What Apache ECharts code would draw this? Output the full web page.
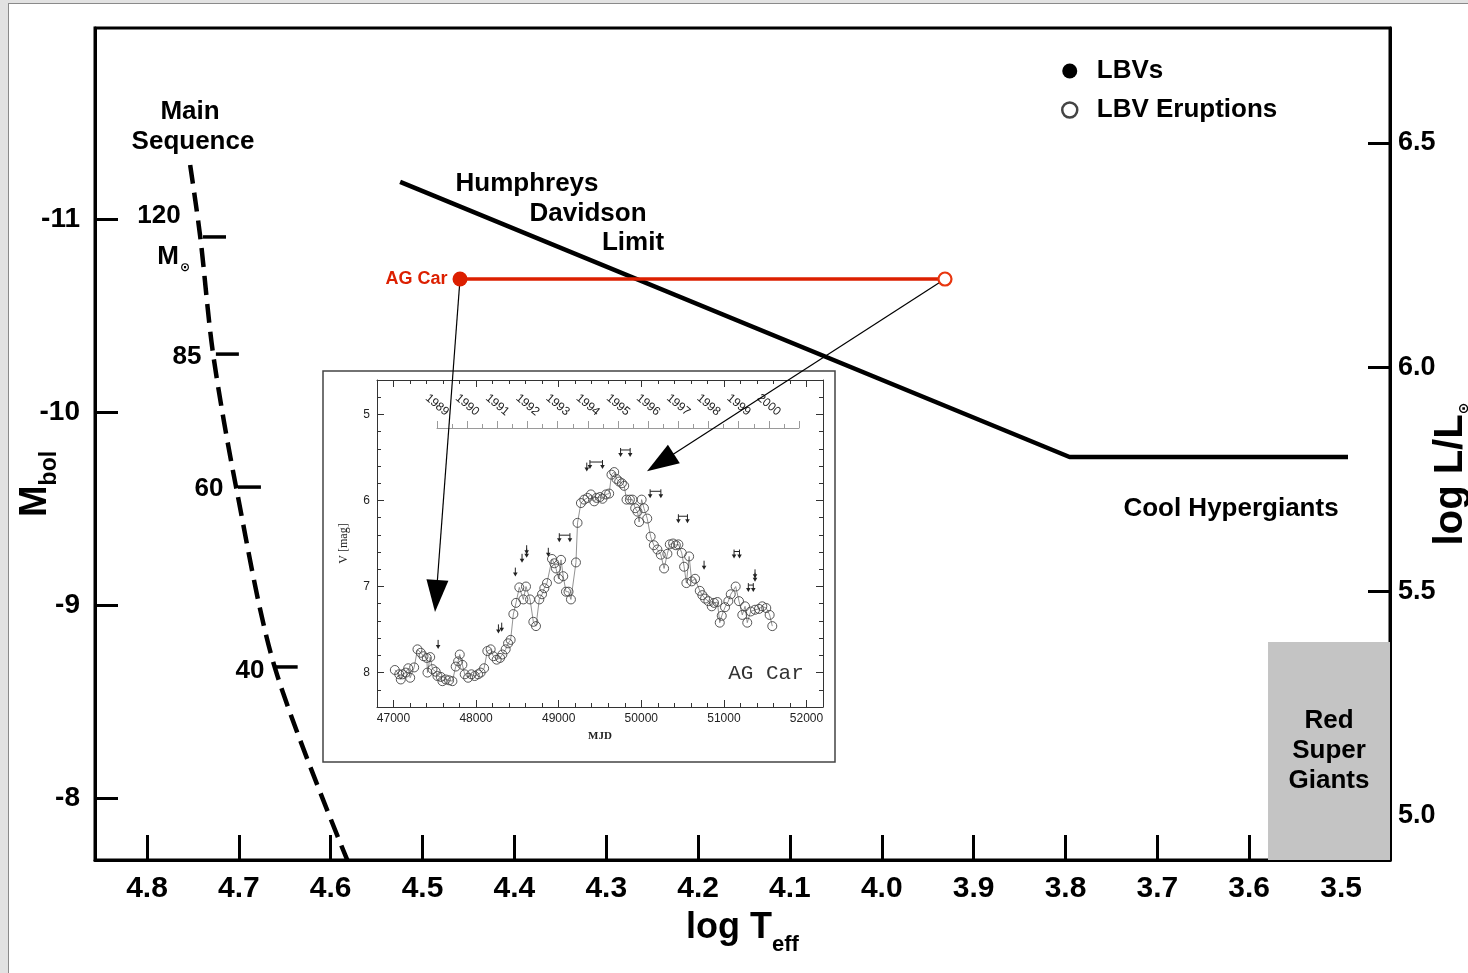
<!DOCTYPE html>
<html>
<head>
<meta charset="utf-8">
<title>AG Car in the HR diagram</title>
<script src="https://cdn.jsdelivr.net/npm/echarts@6/dist/echarts.min.js"></script>
<style>
  html, body { margin: 0; padding: 0; background: #e2e2e2; overflow: hidden; }
  .sheet { position: absolute; left: 8px; top: 3px; right: 0; bottom: 0; background: #fff;
           border-left: 1px solid #8a8a8a; border-top: 1px solid #8a8a8a; }
  #chart { position: absolute; left: 0; top: 0; width: 1468px; height: 973px; }
</style>
</head>
<body>
<div class="sheet"></div>
<div id="chart"></div>
<script>
const SANS = '"Liberation Sans", Arial, Helvetica, sans-serif'
const SERIF = '"Liberation Serif", "DejaVu Serif", serif'
const MONO = '"Liberation Mono", "DejaVu Sans Mono", monospace'
const RED = '#dc1f00'

// main HR diagram
const teffTicks = [4.8, 4.7, 4.6, 4.5, 4.4, 4.3, 4.2, 4.1, 4.0, 3.9, 3.8, 3.7, 3.6, 3.5]
const mbolTicks = [-11, -10, -9, -8]
const lumTicks = [5.0, 5.5, 6.0, 6.5]

const msTeff = [4.753, 4.742, 4.728, 4.703, 4.661, 4.582]
const msMbol = [-11.28, -10.907, -10.30, -9.611, -8.679, -7.679]
const massTeff = [4.739, 4.725, 4.701, 4.661]
const massMbol = [-10.907, -10.30, -9.611, -8.679]

const hdTeff = [4.5244, 3.7956, 3.4924]
const hdMbol = [-11.192, -9.767, -9.767]

const agCarTeff = [4.4592, 3.9312]   // quiescent, eruption
const agCarMbol = -10.689
const arrowTips = [[4.4851, -9.047], [4.2410, -9.738]]

const rsgTeff = 3.5795
const rsgMbol = -8.808

// inset: AG Car light curve
const mjdTicks = [47000, 48000, 49000, 50000, 51000, 52000]
const magTicks = [5, 6, 7, 8]
const lcMjd = [47016, 47069, 47088, 47109, 47149, 47178, 47202, 47250, 47290, 47330,
  47363, 47403, 47411, 47444, 47472, 47511, 47532, 47572, 47592, 47632,
  47673, 47713, 47753, 47782, 47802, 47834, 47862, 47903, 47943, 47983,
  48024, 48055, 48097, 48136, 48176, 48209, 48249, 48290, 48318, 48358,
  48387, 48418, 48451, 48483, 48523, 48572, 48604, 48653, 48693, 48725,
  48765, 48798, 48826, 48858, 48919, 48947, 48967, 48999, 49028, 49055,
  49088, 49119, 49148, 49209, 49228, 49269, 49309, 49349, 49390, 49430,
  49458, 49499, 49530, 49572, 49611, 49639, 49672, 49700, 49732, 49765,
  49793, 49821, 49862, 49893, 49926, 49954, 49974, 50004, 50032, 50072,
  50113, 50152, 50195, 50236, 50276, 50316, 50345, 50385, 50418, 50449,
  50490, 50518, 50546, 50579, 50611, 50651, 50708, 50739, 50772, 50812,
  50853, 50881, 50921, 50950, 50974, 51014, 51054, 51083, 51143, 51183,
  51223, 51256, 51283, 51324, 51377, 51425, 51465, 51513, 51554, 51586]
const lcMag = [7.97, 8.02, 8.08, 8.02, 8.00, 7.95, 8.06, 7.94, 7.73, 7.77,
  7.81, 7.83, 8.00, 7.82, 7.96, 7.99, 8.04, 8.05, 8.10, 8.08,
  8.09, 8.10, 7.93, 7.87, 7.79, 7.91, 8.02, 8.06, 8.02, 8.04,
  8.02, 8.00, 7.95, 7.75, 7.73, 7.81, 7.85, 7.83, 7.79, 7.73,
  7.66, 7.62, 7.32, 7.19, 7.01, 7.15, 7.00, 7.15, 7.41, 7.46,
  7.15, 7.09, 7.02, 6.96, 6.68, 6.73, 6.79, 6.91, 6.69, 6.88,
  7.06, 7.06, 7.15, 6.72, 6.26, 6.03, 5.99, 5.97, 5.93, 6.01,
  5.97, 5.96, 5.98, 5.93, 5.92, 5.70, 5.67, 5.75, 5.78, 5.80,
  5.83, 5.99, 5.99, 5.99, 6.09, 6.13, 6.25, 5.99, 6.09, 6.21,
  6.42, 6.52, 6.57, 6.63, 6.79, 6.62, 6.51, 6.50, 6.52, 6.51,
  6.61, 6.77, 6.96, 6.65, 6.94, 6.91, 7.05, 7.10, 7.14, 7.17,
  7.23, 7.19, 7.18, 7.42, 7.34, 7.24, 7.17, 7.09, 7.00, 7.17,
  7.33, 7.23, 7.42, 7.29, 7.27, 7.26, 7.23, 7.25, 7.33, 7.46]

// upper limits (single arrow when start == end, otherwise a barred pair)
const ulStart = [47540, 48270, 48310, 48475, 48556, 48612, 48612, 48874, 49007, 49340,
  49378, 49749, 50107, 50449, 50760, 51123, 51296, 51377, 51377]
const ulEnd = [47540, 48270, 48310, 48475, 48556, 48612, 48612, 48874, 49136, 49340,
  49530, 49865, 50237, 50559, 50760, 51189, 51356, 51377, 51377]
const ulMag = [7.62, 7.44, 7.42, 6.78, 6.62, 6.52, 6.56, 6.55, 6.38, 5.56,
  5.53, 5.39, 5.87, 6.16, 6.70, 6.57, 6.96, 6.80, 6.84]

const chart = echarts.init(document.getElementById('chart'), null, { renderer: 'canvas' })

const ink = '#333'
function insetX(position, major) {
  return {
    type: 'value', gridIndex: 1, position, min: 46800, max: 52200,
    interval: major ? undefined : 200,
    name: major && position === 'bottom' ? 'MJD' : '',
    nameLocation: 'middle', nameGap: 24, nameMoveOverlap: false,
    nameTextStyle: { fontFamily: SERIF, fontWeight: 'bold', fontSize: 11, color: '#222' },
    axisLine: { show: !major, lineStyle: { color: ink, width: 1 } },
    axisTick: major
      ? { inside: true, length: 7, customValues: mjdTicks, lineStyle: { color: ink } }
      : { inside: true, length: 4, lineStyle: { color: ink } },
    axisLabel: major && position === 'bottom'
      ? { customValues: mjdTicks, formatter: v => String(v), margin: 6,
          fontFamily: SANS, fontSize: 12, color: '#222' }
      : { show: false },
    splitLine: { show: false },
  }
}
function insetY(position, major) {
  return {
    type: 'value', gridIndex: 1, position, min: 4.6, max: 8.4, inverse: true,
    interval: major ? undefined : 0.2,
    name: major && position === 'left' ? 'V [mag]' : '',
    nameLocation: 'middle', nameGap: 27, nameRotate: 90, nameMoveOverlap: false,
    nameTextStyle: { fontFamily: SERIF, fontSize: 12, color: '#222' },
    axisLine: { show: !major, lineStyle: { color: ink, width: 1 } },
    axisTick: major
      ? { inside: true, length: 7, customValues: magTicks, lineStyle: { color: ink } }
      : { inside: true, length: 4, lineStyle: { color: ink } },
    axisLabel: major && position === 'left'
      ? { customValues: magTicks, formatter: v => String(v), margin: 7,
          fontFamily: SANS, fontSize: 12, color: '#222' }
      : { show: false },
    splitLine: { show: false },
  }
}

const bold = (size) => ({ fontFamily: SANS, fontWeight: 'bold', fontSize: size, color: '#000' })
function note(text, x, y, font, fill) {
  return {
    type: 'text', x, y, z: 20,
    style: { text, fill: fill || '#000', font: font || `bold 26px ${SANS}`,
      textAlign: 'center', textVerticalAlign: 'middle', align: 'center', verticalAlign: 'middle' }
  }
}
const massLabels = ['120', '85', '60', '40']

chart.setOption({
  animation: false,
  grid: [
    { left: 95, top: 28, width: 1295, height: 832, show: true, borderColor: '#000', borderWidth: 3, outerBoundsMode: 'none' },
    { left: 377, top: 380, width: 446, height: 327, outerBoundsMode: 'none' },
    { left: 437, top: 427, width: 362, height: 1, outerBoundsMode: 'none' },
  ],
  legend: {
    orient: 'vertical', left: 1061, top: 57, padding: 0, itemGap: 11,
    itemWidth: 44, itemHeight: 15, selectedMode: false,
    textStyle: Object.assign(bold(26), { lineHeight: 28 }),
    data: [
      { name: 'LBVs', icon: 'circle', itemStyle: { color: '#000', borderWidth: 0, opacity: 1 } },
      { name: 'LBV Eruptions', icon: 'circle', itemStyle: { color: '#fff', borderColor: '#444', borderWidth: 2.5 } },
    ]
  },
  xAxis: [
    {
      type: 'value', gridIndex: 0, position: 'bottom', min: 3.4467, max: 4.8566, inverse: true,
      name: '{t|log T}{s|eff}', nameLocation: 'middle', nameGap: 50, nameMoveOverlap: false,
      nameTextStyle: { rich: {
        t: Object.assign(bold(36), { lineHeight: 38, verticalAlign: 'top' }),
        s: Object.assign(bold(22), { lineHeight: 22, verticalAlign: 'top', padding: [24, 0, 0, 0] }),
      } },
      axisLine: { lineStyle: { color: '#000', width: 3 } },
      axisTick: { inside: true, length: 25, customValues: teffTicks, lineStyle: { color: '#000', width: 3 } },
      axisLabel: Object.assign(bold(30), { customValues: teffTicks, formatter: v => v.toFixed(1), margin: 14 }),
      splitLine: { show: false },
    },
    insetX('bottom', false),
    insetX('bottom', true),
    insetX('top', false),
    insetX('top', true),
    {
      type: 'value', gridIndex: 2, position: 'top', min: 1989, max: 2001, interval: 1,
      axisLine: { lineStyle: { color: '#9a9a9a', width: 1 } },
      axisTick: { inside: false, length: 7, lineStyle: { color: '#9a9a9a' } },
      minorTick: { show: true, splitNumber: 2, length: 4, lineStyle: { color: '#9a9a9a' } },
      axisLabel: {
        rotate: -40, margin: 22, align: 'center', verticalAlign: 'middle',
        formatter: v => (v < 2001 ? String(v) : ''),
        fontFamily: SANS, fontSize: 12, color: '#222'
      },
      splitLine: { show: false }, minorSplitLine: { show: false },
    },
  ],
  yAxis: [
    {
      type: 'value', gridIndex: 0, position: 'left', min: -11.9896, max: -7.6788, inverse: true,
      name: '{m|M}{s|bol}', nameLocation: 'middle', nameGap: 38, nameRotate: 90, nameMoveOverlap: false,
      nameTextStyle: { padding: [0, 80, 0, 0], rich: {
        m: Object.assign(bold(38), { lineHeight: 40, verticalAlign: 'top' }),
        s: Object.assign(bold(23), { lineHeight: 23, verticalAlign: 'top', padding: [21, 0, 0, 0] }),
      } },
      axisLine: { lineStyle: { color: '#000', width: 3 } },
      axisTick: { inside: true, length: 23, customValues: mbolTicks, lineStyle: { color: '#000', width: 3 } },
      axisLabel: Object.assign(bold(28), { customValues: mbolTicks, formatter: v => String(v), margin: 15 }),
      splitLine: { show: false },
    },
    {
      type: 'value', gridIndex: 0, position: 'right', min: 4.9019, max: 6.7563,
      name: '{t|log L/L}{s|⊙}', nameLocation: 'middle', nameGap: 41, nameRotate: 90, nameMoveOverlap: false,
      nameTextStyle: { padding: [0, 60, 0, 0], rich: {
        t: Object.assign(bold(40), { lineHeight: 40, verticalAlign: 'top' }),
        s: { fontFamily: '"DejaVu Sans", sans-serif', fontWeight: 'bold', fontSize: 14, color: '#000',
             lineHeight: 16, verticalAlign: 'top', padding: [26, 0, 0, 0] },
      } },
      axisLine: { lineStyle: { color: '#000', width: 3 } },
      axisTick: { inside: true, length: 22, customValues: lumTicks, lineStyle: { color: '#000', width: 3 } },
      axisLabel: Object.assign(bold(27), { customValues: lumTicks, formatter: v => v.toFixed(1), margin: 8 }),
      splitLine: { show: false },
    },
    insetY('left', false),
    insetY('left', true),
    insetY('right', false),
    insetY('right', true),
    { type: 'value', gridIndex: 2, min: 0, max: 1, show: false },
  ],
  graphic: [
    { type: 'rect', z: -1, shape: { x: 323, y: 371, width: 512, height: 391 },
      style: { fill: '#fff', stroke: '#444', lineWidth: 1.5 } },
    note('Main', 190, 112),
    note('Sequence', 193, 142),
    note(massLabels[0], 159, 216),
    note('M', 168, 257),
    note('⊙', 185, 268, `bold 12px "DejaVu Sans", sans-serif`),
    note(massLabels[1], 187, 357),
    note(massLabels[2], 209, 489),
    note(massLabels[3], 250, 671),
    note('Humphreys', 527, 184),
    note('Davidson', 588, 214),
    note('Limit', 633, 243),
    note('Cool Hypergiants', 1231, 509),
    note('AG Car', 766, 673, `21px ${MONO}`, '#333'),
  ],
  series: [
    {
      name: 'HD limit', type: 'line', xAxisIndex: 0, yAxisIndex: 0,
      data: hdTeff.map((t, i) => [t, hdMbol[i]]),
      symbol: 'none', lineStyle: { color: '#000', width: 4.5 }, z: 3, silent: true,
      markArea: {
        silent: true,
        itemStyle: { color: '#c4c4c4' },
        label: Object.assign(bold(26), { position: 'inside', lineHeight: 30 }),
        data: [[
          { name: 'Red\nSuper\nGiants', xAxis: rsgTeff, yAxis: rsgMbol },
          { xAxis: 3.4467, yAxis: -7.6788 }
        ]]
      }
    },
    {
      name: 'Main Sequence', type: 'line', xAxisIndex: 0, yAxisIndex: 0,
      data: msTeff.map((t, i) => [t, msMbol[i]]), smooth: 0.3,
      symbol: 'none', lineStyle: { color: '#000', width: 4.5, type: [19, 9] }, z: 3, silent: true,
    },
    {
      name: 'mass ticks', type: 'custom', xAxisIndex: 0, yAxisIndex: 0, silent: true,
      data: massTeff.map((t, i) => [t, massMbol[i]]),
      renderItem: (params, api) => {
        const p = api.coord([api.value(0), api.value(1)])
        return { type: 'line', shape: { x1: p[0], y1: p[1], x2: p[0] + 23, y2: p[1] },
          style: { stroke: '#000', lineWidth: 3.5 } }
      }
    },
    {
      name: 'AG Car track', type: 'line', xAxisIndex: 0, yAxisIndex: 0,
      data: agCarTeff.map(t => [t, agCarMbol]),
      symbol: 'none', lineStyle: { color: RED, width: 3.5 }, z: 4, silent: true,
    },
    {
      name: 'LBVs', type: 'scatter', xAxisIndex: 0, yAxisIndex: 0,
      data: [[agCarTeff[0], agCarMbol]], symbolSize: 15, z: 12,
      itemStyle: { color: RED, opacity: 1 },
      label: { show: true, position: 'left', distance: 5, formatter: 'AG Car',
        fontFamily: SANS, fontWeight: 'bold', fontSize: 18, color: RED },
    },
    {
      name: 'LBV Eruptions', type: 'scatter', xAxisIndex: 0, yAxisIndex: 0,
      data: [[agCarTeff[1], agCarMbol]], symbolSize: 13, z: 12,
      itemStyle: { color: '#fff', borderColor: '#e8360f', borderWidth: 2.2, opacity: 1 },
    },
    {
      name: 'pointers', type: 'lines', coordinateSystem: 'cartesian2d', xAxisIndex: 0, yAxisIndex: 0,
      z: 10, silent: true,
      symbol: ['none', 'triangle'], symbolSize: [0, [22, 32]],
      lineStyle: { color: '#000', width: 1.2, opacity: 1 },
      data: arrowTips.map((tip, i) => ({ coords: [[agCarTeff[i], agCarMbol], tip] })),
    },
    {
      name: 'AG Car V', type: 'line', xAxisIndex: 2, yAxisIndex: 3,
      data: lcMjd.map((m, i) => [m, lcMag[i]]),
      symbol: 'circle', symbolSize: 9, showAllSymbol: true, silent: true, z: 5,
      itemStyle: { color: 'rgba(0,0,0,0)', borderColor: '#444', borderWidth: 0.9 },
      lineStyle: { color: '#777', width: 0.8 },
    },
    {
      name: 'upper limits', type: 'custom', xAxisIndex: 2, yAxisIndex: 3, silent: true, z: 6,
      data: ulStart.map((s, i) => [s, ulEnd[i], ulMag[i]]),
      encode: { x: [0, 1], y: 2 },
      renderItem: (params, api) => {
        const a = api.coord([api.value(0), api.value(2)])
        const b = api.coord([api.value(1), api.value(2)])
        const arrow = (x, y) => [
          { type: 'line', shape: { x1: x, y1: y, x2: x, y2: y + 7 }, style: { stroke: '#222', lineWidth: 1 } },
          { type: 'polygon', shape: { points: [[x - 2.3, y + 5], [x + 2.3, y + 5], [x, y + 9]] }, style: { fill: '#222' } },
        ]
        let kids = arrow(a[0], a[1])
        if (b[0] - a[0] > 1) {
          kids = kids.concat(arrow(b[0], b[1]))
          kids.push({ type: 'line', shape: { x1: a[0], y1: a[1] + 2, x2: b[0], y2: b[1] + 2 },
            style: { stroke: '#222', lineWidth: 1 } })
        }
        return { type: 'group', children: kids }
      }
    },
  ]
})
</script>
</body>
</html>
